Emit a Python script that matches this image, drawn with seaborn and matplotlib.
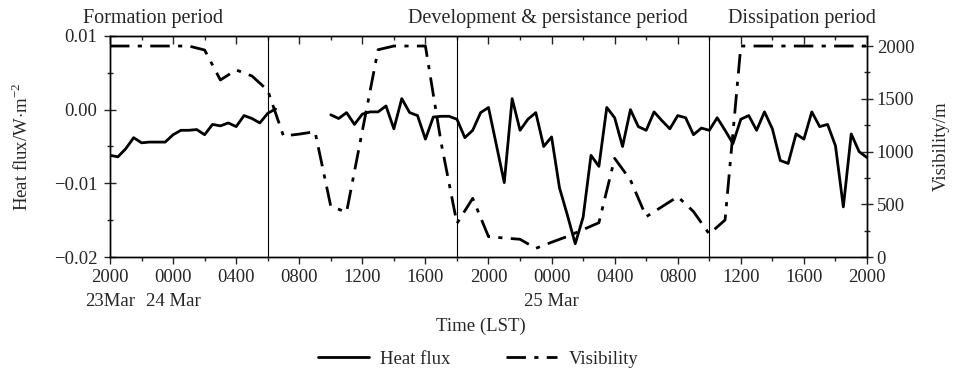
import numpy as np
import pandas as pd
import matplotlib
matplotlib.use("Agg")
import matplotlib.pyplot as plt
from matplotlib.lines import Line2D
from matplotlib.ticker import MultipleLocator
import seaborn as sns

# ---------------- data ----------------
# hours since 2000 LST 23 Mar, heat flux every half hour
hf_hours = np.arange(0, 48.01, 0.5)
heat_flux = [
    -0.0062, -0.0064, -0.0053, -0.0038, -0.0045, -0.0044, -0.0044, -0.0044,
    -0.0034, -0.0028, -0.0028, -0.0027, -0.0034, -0.0020, -0.0022, -0.0018,
    -0.0023, -0.0008, -0.0012, -0.0018, -0.0005, 0.0001,
    np.nan, np.nan, np.nan, np.nan, np.nan, np.nan,
    -0.0007, -0.0012, -0.0004, -0.0020, -0.0006, -0.0003, -0.0003, 0.0005,
    -0.0026, 0.0015, -0.0004, -0.0008, -0.0040, -0.0010, -0.0009, -0.0009,
    -0.0013, -0.0038, -0.0028, -0.0004, 0.0003, -0.0048, -0.0099, 0.0015,
    -0.0028, -0.0013, -0.0004, -0.0050, -0.0037, -0.0106, -0.0143, -0.0182,
    -0.0146, -0.0062, -0.0077, 0.0003, -0.0011, -0.0050, 0.0000, -0.0023,
    -0.0028, -0.0003, -0.0015, -0.0026, -0.0008, -0.0011, -0.0034, -0.0025,
    -0.0028, -0.0011, -0.0028, -0.0046, -0.0013, -0.0008, -0.0028, -0.0003,
    -0.0026, -0.0069, -0.0073, -0.0033, -0.0040, -0.0003, -0.0023, -0.0020,
    -0.0049, -0.0132, -0.0033, -0.0057, -0.0065,
]
# visibility hourly
vis_hours = np.arange(0, 49, 1)
visibility = [
    2000, 2000, 2000, 2000, 2000, 2000, 1962, 1678, 1773, 1716,
    1580, 1147, 1165, 1188, 480, 425, 1195, 1965, 2000, 2000,
    2000, 1080, 319, 556, 193, 180, 168, 82, 140, 195,
    260, 325, 935, 730, 382, 477, 572, 430, 218, 351,
    2000, 2000, 2000, 2000, 2000, 2000, 2000, 2000, 2000,
]
tick_hours = np.arange(0, 49, 4)
tick_labels = ["2000\n23Mar", "0000\n24 Mar", "0400", "0800", "1200", "1600",
               "2000", "0000\n25 Mar", "0400", "0800", "1200", "1600", "2000"]
period_bounds = [10, 22, 38]
period_names = ["Formation period", "Development & persistance period", "Dissipation period"]

# ---------------- frames ----------------
hf = np.array(heat_flux, dtype=float)
seg = np.cumsum(np.isnan(hf))
df_hf = pd.DataFrame({"t": hf_hours, "hf": hf, "seg": seg}).dropna()
df_vis = pd.DataFrame({"t": vis_hours, "vis": visibility})

# ---------------- style ----------------
sns.set_style("ticks")
plt.rcParams["font.family"] = ["Liberation Serif", "DejaVu Serif"]
plt.rcParams["mathtext.fontset"] = "custom"
plt.rcParams["mathtext.rm"] = "Liberation Serif"
FS = 13.5
DASHDOT = (0, (7, 3, 1.5, 3))

W, H = 954, 377
fig = plt.figure(figsize=(W / 100, H / 100), dpi=100)
L, R, T, B = 110, 867, 36, 257
ax = fig.add_axes([L / W, 1 - B / H, (R - L) / W, (B - T) / H])
ax2 = ax.twinx()

sns.lineplot(data=df_hf, x="t", y="hf", units="seg", estimator=None,
             color="black", lw=2.0, ax=ax)
sns.lineplot(data=df_vis, x="t", y="vis", color="black", lw=2.0,
             linestyle=DASHDOT, ax=ax2)

for b in period_bounds:
    ax.axvline(b, color="black", lw=0.8)

ax.set_xlim(0, 48)
ax.set_ylim(-0.02, 0.01)
ax2.set_ylim(0, 2095)

ax.set_xticks(tick_hours)
ax.set_xticklabels(tick_labels, fontsize=FS, linespacing=1.5)
ax.xaxis.set_minor_locator(MultipleLocator(2))
ax.set_yticks([-0.02, -0.01, 0.0, 0.01])
ax.set_yticklabels(["\u22120.02", "\u22120.01", "0.00", "0.01"], fontsize=FS)
ax.yaxis.set_minor_locator(MultipleLocator(0.005))
ax2.set_yticks([0, 500, 1000, 1500, 2000])
ax2.set_yticklabels(["0", "500", "1000", "1500", "2000"], fontsize=FS)
ax2.yaxis.set_minor_locator(MultipleLocator(250))

ax.tick_params(axis="x", which="major", direction="out", length=5, width=1, pad=4)
ax.tick_params(axis="x", which="minor", direction="out", length=3, width=1)
ax.tick_params(axis="y", which="major", direction="inout", length=8, width=1, pad=5)
ax.tick_params(axis="y", which="minor", direction="inout", length=4, width=1)
ax2.tick_params(axis="y", which="major", direction="inout", length=8, width=1, pad=3)
ax2.tick_params(axis="y", which="minor", direction="inout", length=4, width=1)

top = ax.secondary_xaxis("top")
top.set_xticks(tick_hours)
top.set_xticklabels([])
top.xaxis.set_minor_locator(MultipleLocator(2))
top.tick_params(axis="x", which="major", direction="in", length=6, width=1)
top.tick_params(axis="x", which="minor", direction="in", length=3, width=1)

for a in (ax, ax2):
    for s in a.spines.values():
        s.set_linewidth(1.0)
        s.set_color("black")

ax.set_xlabel("Time (LST)", fontsize=FS, labelpad=10)
ax.xaxis.set_label_coords((481 - L) / (R - L), (B - 326) / (B - T), transform=ax.transAxes)
ax.xaxis.label.set_va("center")
ax.set_ylabel("Heat flux/W$\\cdot$m$^{-2}$", fontsize=FS)
ax.yaxis.set_label_coords((32 - L) / (R - L), 0.5)
ax2.set_ylabel("Visibility/m", fontsize=FS)
ax2.yaxis.set_label_coords((933 - L) / (R - L), 0.5)

text_x = [83, 408, 728]
for x, name in zip(text_x, period_names):
    fig.text(x / W, 1 - 19 / H, name, fontsize=14.5, ha="left", va="center")

handles = [Line2D([], [], color="black", lw=2.0),
           Line2D([], [], color="black", lw=2.0, linestyle=DASHDOT)]
fig.legend(handles, ["Heat flux", "Visibility"], loc="center",
           bbox_to_anchor=(478 / W, 1 - 359 / H), ncol=2, frameon=False,
           fontsize=FS, handlelength=2.7, columnspacing=3.0, handletextpad=0.6)

fig.savefig("out.png", dpi=100)
